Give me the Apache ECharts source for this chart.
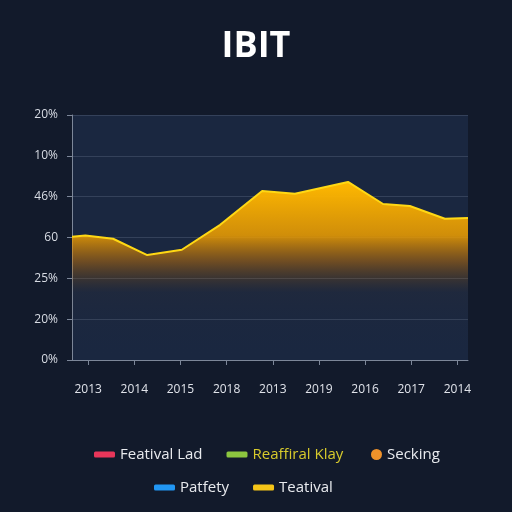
<!DOCTYPE html>
<html>
<head>
    <meta charset="UTF-8">
    <title>IBIT</title>
    <script src="https://cdn.jsdelivr.net/npm/echarts@6/dist/echarts.min.js"></script>
    <style type="text/css">
        html, body { margin: 0; padding: 0; background: #121a2b; }
        #chart { width: 512px; height: 512px; }
    </style>
</head>
<body>
<div id="chart"></div>
<script type="text/javascript">
// tick labels
var yLabels = ['0%', '20%', '25%', '60', '46%', '10%', '20%'];
var xLabels = ['2013', '2014', '2015', '2018', '2013', '2019', '2016', '2017', '2014'];
// line points, x in tick units (0 = first label)
var lineX = [-0.35, -0.06, 0.54, 1.28, 2.03, 2.86, 3.77, 4.48, 5.63, 6.39, 6.97, 7.73, 8.23];
var lineY = [3.02, 3.05, 2.97, 2.57, 2.70, 3.31, 4.14, 4.07, 4.36, 3.82, 3.77, 3.46, 3.48];
var legendRow1 = ['Featival Lad', 'Reaffiral Klay'];
var legendDot = ['Secking'];
var legendRow2 = ['Patfety', 'Teatival'];

var chart = echarts.init(document.getElementById('chart'));
var pts = lineX.map(function (x, i) { return [x, lineY[i]]; });
var tickIdx = xLabels.map(function (d, i) { return i; });

var colors = {
    'Featival Lad': '#e8365a',
    'Reaffiral Klay': '#8cc63f',
    'Secking': '#f0922a',
    'Patfety': '#2196f3',
    'Teatival': '#f5c518'
};
function legendItem(name) {
    var it = { name: name, itemStyle: { color: colors[name] } };
    if (name === 'Reaffiral Klay') it.textStyle = { color: '#d8cb2c' };
    return it;
}
var legendText = { color: '#e8eaee', fontSize: 15, fontFamily: 'Open Sans' };
var emptySeries = ['Featival Lad', 'Reaffiral Klay', 'Secking', 'Patfety'].map(function (n) {
    return { name: n, type: 'line', data: [], itemStyle: { color: colors[n] } };
});

chart.setOption({
    backgroundColor: '#121a2b',
    animation: false,
    title: {
        text: 'IBIT', left: 'center', top: 24,
        textStyle: { color: '#ffffff', fontSize: 36, fontWeight: 'bold', fontFamily: 'Open Sans' }
    },
    legend: [
        { left: 89, top: 442, itemWidth: 21, itemHeight: 6, itemGap: 24, icon: 'roundRect',
          textStyle: legendText, data: legendRow1.map(legendItem) },
        { left: 366, top: 442, itemWidth: 11, itemHeight: 11, icon: 'circle',
          textStyle: legendText, data: legendDot.map(legendItem) },
        { left: 149, top: 475, itemWidth: 21, itemHeight: 6, itemGap: 24, icon: 'roundRect',
          textStyle: legendText, data: legendRow2.map(legendItem) }
    ],
    grid: { left: 72, right: 44, top: 115, bottom: 152, show: true, backgroundColor: '#1a2740', borderWidth: 0 },
    xAxis: {
        type: 'value', min: -0.35, max: 8.23,
        axisLine: { show: true, lineStyle: { color: '#7d8799' } },
        axisTick: { show: true, customValues: tickIdx, length: 5, lineStyle: { color: '#7d8799' } },
        axisLabel: { customValues: tickIdx, margin: 24, color: '#e0e3ea', fontSize: 12, fontFamily: 'Open Sans',
            formatter: function (v) { return xLabels[Math.round(v)]; } },
        splitLine: { show: false }
    },
    yAxis: {
        type: 'value', min: 0, max: 6, interval: 1,
        axisLine: { show: true, onZero: false, lineStyle: { color: '#7d8799' } },
        axisTick: { show: true, length: 5, lineStyle: { color: '#7d8799' } },
        axisLabel: { margin: 14, color: '#d8dce4', fontSize: 12, fontFamily: 'Open Sans',
            formatter: function (v) { return yLabels[v]; } },
        splitLine: { show: true, lineStyle: { color: '#34415a', width: 1 } }
    },
    series: emptySeries.concat([{
        name: 'Teatival', type: 'line', data: pts, symbol: 'none', smooth: false,
        lineStyle: { color: '#ffd814', width: 2 },
        itemStyle: { color: colors['Teatival'] },
        areaStyle: {
            opacity: 1,
            color: new echarts.graphic.LinearGradient(0, 0, 0, 1, [
                { offset: 0, color: 'rgba(255,185,0,1)' },
                { offset: 0.3, color: 'rgba(240,160,0,0.85)' },
                { offset: 0.45, color: 'rgba(210,120,0,0.45)' },
                { offset: 0.62, color: 'rgba(120,70,10,0.05)' },
                { offset: 1, color: 'rgba(26,39,64,0)' }
            ])
        }
    }])
});
</script>
</body>
</html>
